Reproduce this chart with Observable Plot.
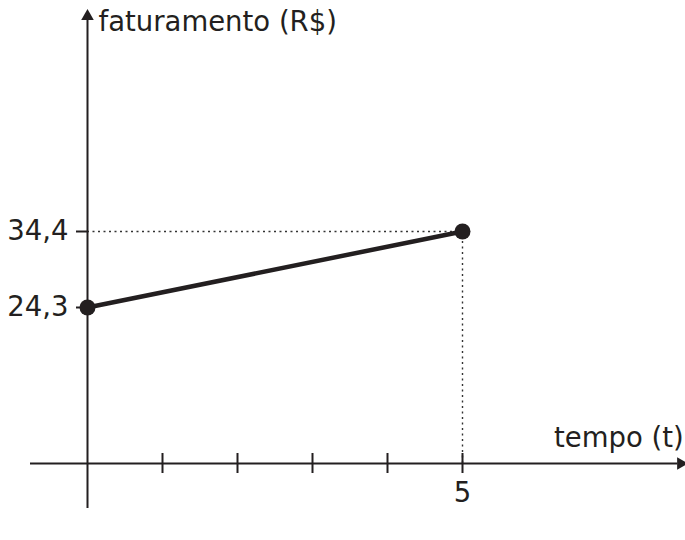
<!DOCTYPE html>
<html>
<head>
<meta charset="utf-8">
<script src="https://cdn.jsdelivr.net/npm/d3@7"></script>
<script src="https://cdn.jsdelivr.net/npm/@observablehq/plot@0.6"></script>
<style>
  html, body { margin: 0; padding: 0; background: #fff; }
  svg { display: block; }
</style>
</head>
<body>
<div id="chart"></div>
<script>
// Data
const tempo = [0, 5];
const faturamento = [24.3, 34.4];
const xTicks = [1, 2, 3, 4, 5];
const xTickLabels = [{t: 5, label: "5"}];
const yTicks = [24.3, 34.4];
const yTickLabels = ["24,3", "34,4"];
const xTitle = "tempo (t)";
const yTitle = "faturamento (R$)";
const xAxisExtent = [-0.76, 7.99];
const yAxisExtent = [-7, 63.8];

const points = tempo.map((t, i) => ({t, v: faturamento[i]}));
const ink = "#231f20";
const font = "DejaVu Sans, Verdana, sans-serif";

const chart = Plot.plot({
  width: 685,
  height: 540,
  margin: 0,
  style: {fontFamily: font, background: "#fff"},
  x: {domain: [0, 5], range: [87, 462], axis: null},
  y: {type: "linear", domain: [0, 24.3, 34.4], range: [463, 307, 231], axis: null},
  marks: [
    // dotted guides
    Plot.ruleY([faturamento[1]], {x1: 0, x2: tempo[1], stroke: "#333", strokeWidth: 1.4, strokeDasharray: "2,3.5"}),
    Plot.ruleX([tempo[1]], {y1: 0, y2: faturamento[1], stroke: "#333", strokeWidth: 1.4, strokeDasharray: "2,3.5"}),
    // axes
    Plot.ruleY([0], {x1: xAxisExtent[0], x2: xAxisExtent[1] - 0.12, stroke: ink, strokeWidth: 2}),
    Plot.ruleX([0], {y1: yAxisExtent[0], y2: yAxisExtent[1] - 1.2, stroke: ink, strokeWidth: 2}),
    Plot.dot([{x: xAxisExtent[1], y: 0}], {x: "x", y: "y", symbol: "triangle2", rotate: 90, r: 6, fill: ink, dx: -6}),
    Plot.dot([{x: 0, y: yAxisExtent[1]}], {x: "x", y: "y", symbol: "triangle2", r: 6, fill: ink, dy: 6}),
    // ticks
    Plot.ruleX(xTicks, {x: d => d, y1: 0, y2: 0, insetTop: -10, insetBottom: -10, stroke: ink, strokeWidth: 2}),
    Plot.ruleY(yTicks, {y: d => d, x1: 0, x2: 0, insetLeft: -11, stroke: ink, strokeWidth: 2}),
    // tick labels
    Plot.text(yTicks, {x: 0, y: d => d, text: (d, i) => yTickLabels[i], dx: -19, textAnchor: "end", fontSize: 27.5, fill: ink}),
    Plot.text(xTickLabels, {x: "t", y: 0, text: "label", dy: 30, fontSize: 27.5, fill: ink}),
    // axis titles
    Plot.text([yTitle], {x: 0, y: yAxisExtent[1], text: d => d, dx: 11, dy: 12, textAnchor: "start", fontSize: 27.5, fill: ink}),
    Plot.text([xTitle], {x: xAxisExtent[1], y: 0, text: d => d, dx: -3, dy: -25, textAnchor: "end", fontSize: 27.5, fill: ink}),
    // series
    Plot.line(points, {x: "t", y: "v", stroke: ink, strokeWidth: 4.5}),
    Plot.dot(points, {x: "t", y: "v", r: 8, fill: ink})
  ]
});
document.getElementById("chart").append(chart);
</script>
</body>
</html>
